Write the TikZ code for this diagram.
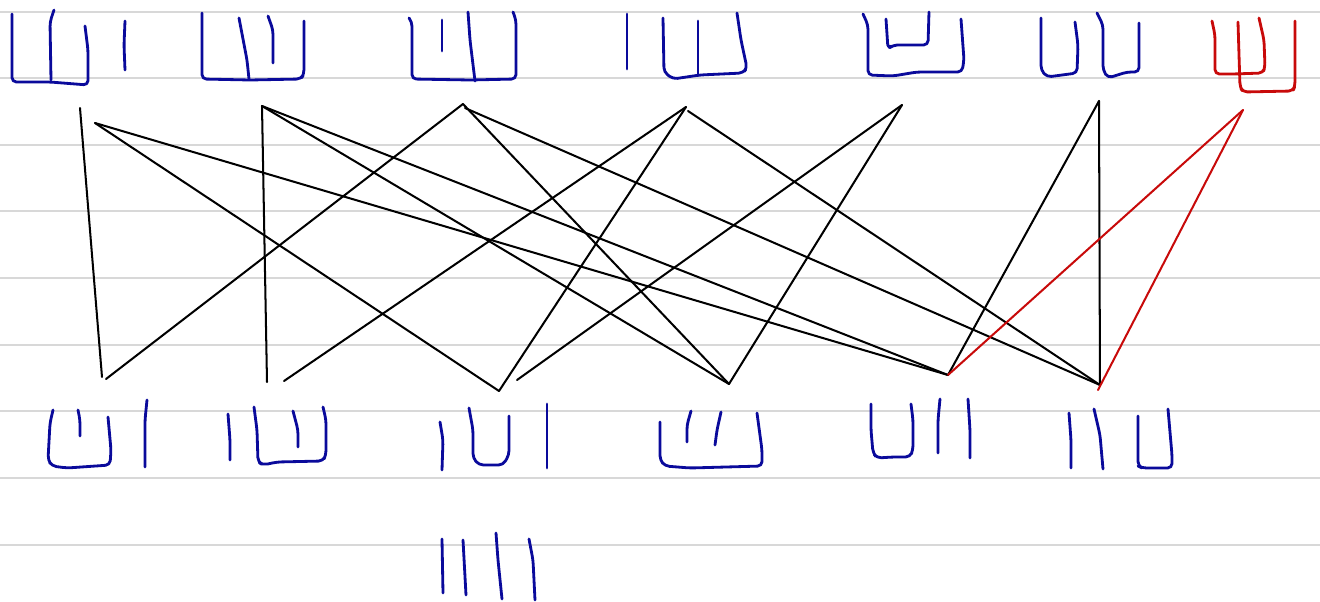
\documentclass[tikz,border=0pt]{standalone}
\definecolor{ink}{RGB}{10,10,155}
\definecolor{redink}{RGB}{200,10,10}
\definecolor{ruling}{RGB}{216,216,216}
\begin{document}
\begin{tikzpicture}[x=0.02cm,y=-0.02cm,
  ruleline/.style={draw=ruling, line width=1.6pt},
  edge/.style={draw=black, line width=1.15pt, line cap=round},
  redge/.style={draw=redink, line width=1.15pt, line cap=round},
  glyph/.style={draw=ink, line width=1.6pt, line cap=round, line join=round, rounded corners=2.5pt},
  rglyph/.style={draw=redink, line width=1.6pt, line cap=round, line join=round, rounded corners=2.5pt}]
\useasboundingbox (0,0) rectangle (1320,602);
\fill[white] (0,0) rectangle (1320,602);
% ruled lines
\foreach \yy in {12,78,145,211,278,345,411,478,545}
  \draw[ruleline] (0,\yy) -- (1320,\yy);

% connector end points
\coordinate (t1a) at (80,108);
\coordinate (t1b) at (95,123);
\coordinate (t2) at (262,106);
\coordinate (t3) at (463,104);
\coordinate (t3b) at (465,108);
\coordinate (t4) at (686,107);
\coordinate (t4b) at (688,111);
\coordinate (t5) at (902,105);
\coordinate (t6) at (1099,101);
\coordinate (t7) at (1243,110);
\coordinate (b1a) at (102,377);
\coordinate (b1b) at (106,379);
\coordinate (b2a) at (267,382);
\coordinate (b2b) at (284,381);
\coordinate (b3a) at (499,391);
\coordinate (b3b) at (517,380);
\coordinate (b4) at (729,384);
\coordinate (b5) at (948,375);
\coordinate (b6) at (1100,385);
\coordinate (b6r) at (1098,390);

% black connectors
\draw[edge] (t1a) -- (b1a);
\draw[edge] (t1b) -- (b3a);
\draw[edge] (t1b) -- (b5);
\draw[edge] (t2) -- (b2a);
\draw[edge] (t2) -- (b4);
\draw[edge] (t2) -- (b5);
\draw[edge] (t3) -- (b1b);
\draw[edge] (t3) -- (b4);
\draw[edge] (t3b) -- (b6);
\draw[edge] (t4) -- (b2b);
\draw[edge] (t4) -- (b3a);
\draw[edge] (t4b) -- (b6);
\draw[edge] (t5) -- (b3b);
\draw[edge] (t5) -- (b4);
\draw[edge] (t6) -- (b5);
\draw[edge] (t6) -- (b6);
% red connectors
\draw[redge] (t7) -- (b5);
\draw[redge] (t7) -- (b6r);

% ---- top row glyphs ----
% G1
\draw[glyph] (12,14) -- (12,82) -- (50,82) -- (88,85) -- (88,50) -- (85,26);
\draw[glyph] (54,10) -- (50,22) -- (51,80);
\draw[glyph] (125,21) -- (124,45) -- (125,70);
% G2
\draw[glyph] (202,13) -- (202,79) -- (250,80) -- (301,79) -- (304,74) -- (304,21);
\draw[glyph] (239,18) -- (247,60) -- (249,79);
\draw[glyph] (268,16) -- (273,30) -- (273,63);
% G3
\draw[glyph] (409,18) -- (412,22) -- (412,79) -- (470,80) -- (516,79) -- (516,20) -- (513,12);
\draw[glyph] (442,20) -- (442,51);
\draw[glyph] (468,12) -- (470,40) -- (475,81);
% G4
\draw[glyph] (627,14) -- (627,69);
\draw[glyph] (663,18) -- (664,72) -- (673,79) -- (700,75) -- (743,73) -- (747,68) -- (741,40) -- (737,13);
\draw[glyph] (698,21) -- (698,75);
% G5
\draw[glyph] (863,14) -- (868,25) -- (868,75) -- (893,76) -- (917,72) -- (962,72) -- (964,60) -- (961,19);
\draw[glyph] (886,19) -- (888,49) -- (893,45) -- (928,45) -- (929,12);
% G6
\draw[glyph] (1041,18) -- (1041,70) -- (1047,77) -- (1077,73) -- (1078,45) -- (1075,22);
\draw[glyph] (1097,13) -- (1103,25) -- (1103,70) -- (1108,78) -- (1127,72) -- (1139,72) -- (1139,23);
% G7 (red)
\draw[rglyph] (1212,21) -- (1215,35) -- (1215,74) -- (1233,74) -- (1263,73) -- (1265,67) -- (1264,40) -- (1259,18);
\draw[rglyph] (1238,22) -- (1240,87) -- (1243,92) -- (1293,91) -- (1295,86) -- (1295,21);

% ---- bottom row glyphs ----
% B1
\draw[glyph] (53,410) -- (50,423) -- (48,460) -- (52,466) -- (67,468) -- (110,465) -- (111,450) -- (108,417);
\draw[glyph] (78,410) -- (80,420) -- (80,436);
\draw[glyph] (147,400) -- (145,420) -- (145,467);
% B2
\draw[glyph] (228,414) -- (230,440) -- (230,460);
\draw[glyph] (254,407) -- (257,430) -- (258,462) -- (263,465) -- (277,462) -- (323,461) -- (326,455) -- (326,420) -- (323,407);
\draw[glyph] (293,411) -- (298,430) -- (298,447);
% B3
\draw[glyph] (440,422) -- (443,440) -- (442,470);
\draw[glyph] (469,408) -- (473,430) -- (473,458) -- (479,465) -- (503,465) -- (509,455) -- (509,416);
\draw[glyph] (547,404) -- (547,468);
% B4
\draw[glyph] (660,422) -- (660,460) -- (665,466) -- (690,468) -- (762,466) -- (762,450) -- (757,413);
\draw[glyph] (691,411) -- (687,425) -- (687,442);
\draw[glyph] (721,412) -- (717,430) -- (715,445);
% B5
\draw[glyph] (871,404) -- (871,430) -- (873,453) -- (877,458) -- (893,457) -- (910,457) -- (913,450) -- (913,420) -- (911,404);
\draw[glyph] (940,399) -- (938,420) -- (938,453);
\draw[glyph] (968,399) -- (970,430) -- (970,458);
% B6
\draw[glyph] (1069,413) -- (1071,440) -- (1071,468);
\draw[glyph] (1094,409) -- (1100,435) -- (1103,469);
\draw[glyph] (1138,416) -- (1138,466) -- (1142,468) -- (1172,468) -- (1172,455) -- (1168,409);
% extra glyph below
\draw[glyph] (442,539) -- (443,593);
\draw[glyph] (463,540) -- (466,595);
\draw[glyph] (496,533) -- (498,560) -- (502,599);
\draw[glyph] (529,539) -- (533,560) -- (535,600);
\end{tikzpicture}
\end{document}
